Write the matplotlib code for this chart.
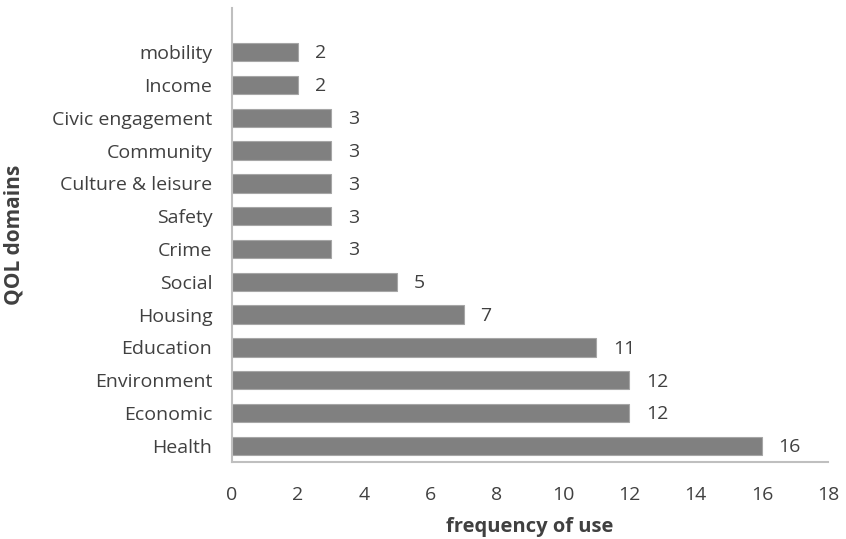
import matplotlib.pyplot as plt

plt.rcParams['font.family'] = ['Open Sans', 'DejaVu Sans']

domains = ["Health", "Economic", "Environment", "Education", "Housing", "Social",
           "Crime", "Safety", "Culture & leisure", "Community", "Civic engagement",
           "Income", "mobility"]
counts = [16, 12, 12, 11, 7, 5, 3, 3, 3, 3, 3, 2, 2]
xticks = [0, 2, 4, 6, 8, 10, 12, 14, 16, 18]

text_col = "#404040"

fig = plt.figure(figsize=(8.46, 5.39), dpi=100)
ax = fig.add_axes([0.274, 0.143, 0.705, 0.842])

pos = list(range(len(domains)))
ax.barh(pos, counts, height=0.56, color="#808080", edgecolor="#a6a6a6", linewidth=0.8)

# value labels next to bar ends
for p, c in zip(pos, counts):
    ax.annotate(str(c), (c, p), xytext=(12, -1), textcoords="offset points",
                ha="left", va="center", fontsize=14, color=text_col)

ax.set_xlim(0, 18)
ax.set_ylim(-0.49, 13.34)
ax.set_xticks(xticks)
ax.set_yticks(pos)
ax.set_yticklabels(domains)
ax.tick_params(axis="x", length=0, pad=17, labelsize=14, colors=text_col)
ax.tick_params(axis="y", length=0, pad=14, labelsize=14, colors=text_col)

for s in ["top", "right"]:
    ax.spines[s].set_visible(False)
for s in ["left", "bottom"]:
    ax.spines[s].set_color("#bfbfbf")
    ax.spines[s].set_linewidth(1.5)

ax.set_xlabel("frequency of use", fontsize=14.5, fontweight="bold", color=text_col, labelpad=10)
ax.set_ylabel("QOL domains", fontsize=15, fontweight="bold", color=text_col)
ax.yaxis.set_label_coords(-0.348, 0.5)

fig.savefig("out.png", dpi=100)
